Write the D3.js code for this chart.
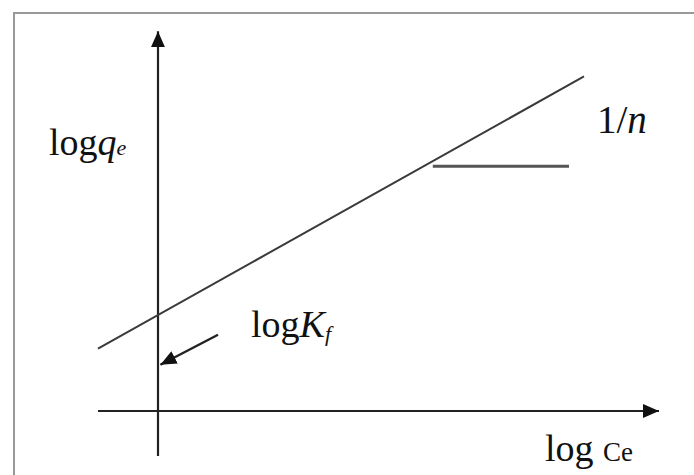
<!DOCTYPE html>
<html>
<head>
<meta charset="utf-8">
<script src="https://cdn.jsdelivr.net/npm/d3@7"></script>
<style>
  body { margin: 0; background: #fff; }
  text { font-family: "Liberation Serif", "DejaVu Serif", serif; fill: #111; }
</style>
</head>
<body>
<svg></svg>
<script>
// Freundlich isotherm sketch: log qe = log Kf + (1/n) log Ce

// Axis extents in data units [start, end]
var xAxisRange = [-1, 8.35];
var yAxisRange = [-0.75, 6.33];

// Fitted line: intercept (log Kf) and slope (1/n), drawn over this x span
var intercept = 1.6;
var slope = 0.56;
var lineX = [-1, 7.1];

// Slope marker: horizontal segment at this height
var slopeMarkY = 4.08;
var slopeMarkX = [4.58, 6.85];

// Pointer to the intercept: [x, y] start and end
var pointerFrom = [1.0, 1.27];
var pointerTo = [0.04, 0.77];

var svgWidth = 694, svgHeight = 475;

var svg = d3.select("svg")
  .attr("width", svgWidth)
  .attr("height", svgHeight);

// One data unit = 60px, origin at (158, 411)
var xScale = d3.scaleLinear().domain([0, 1]).range([158, 218]);
var yScale = d3.scaleLinear().domain([0, 1]).range([411, 351]);

// Arrow heads
var defs = svg.append("defs");
defs.append("marker")
  .attr("id", "head")
  .attr("viewBox", "0 0 16 16")
  .attr("refX", 16).attr("refY", 8)
  .attr("markerWidth", 16).attr("markerHeight", 16)
  .attr("markerUnits", "userSpaceOnUse")
  .attr("orient", "auto")
  .append("path")
  .attr("d", "M0,1 L16,8 L0,15 Z")
  .attr("fill", "#111");
defs.append("marker")
  .attr("id", "small-head")
  .attr("viewBox", "0 0 16 14")
  .attr("refX", 16).attr("refY", 7)
  .attr("markerWidth", 16).attr("markerHeight", 14)
  .attr("markerUnits", "userSpaceOnUse")
  .attr("orient", "auto")
  .append("path")
  .attr("d", "M0,0 L16,7 L0,14 Z")
  .attr("fill", "#111");

// Outer frame (runs off the right and bottom edge)
svg.append("rect")
  .attr("x", 14).attr("y", 13)
  .attr("width", 700).attr("height", 500)
  .attr("fill", "none")
  .attr("stroke", "#999")
  .attr("stroke-width", 2);

// Axes
svg.append("line")
  .attr("x1", xScale(xAxisRange[0])).attr("y1", yScale(0))
  .attr("x2", xScale(xAxisRange[1])).attr("y2", yScale(0))
  .attr("stroke", "#222").attr("stroke-width", 2.2)
  .attr("marker-end", "url(#head)");

svg.append("line")
  .attr("x1", xScale(0)).attr("y1", yScale(yAxisRange[0]))
  .attr("x2", xScale(0)).attr("y2", yScale(yAxisRange[1]))
  .attr("stroke", "#222").attr("stroke-width", 2.2)
  .attr("marker-end", "url(#head)");

// Fitted line
var line = d3.line()
  .x(function(d) { return xScale(d); })
  .y(function(d) { return yScale(intercept + slope * d); });

svg.append("path")
  .datum(lineX)
  .attr("d", line)
  .attr("fill", "none")
  .attr("stroke", "#3a3a3a")
  .attr("stroke-width", 2);

// Horizontal slope marker
svg.append("line")
  .attr("x1", xScale(slopeMarkX[0])).attr("y1", yScale(slopeMarkY))
  .attr("x2", xScale(slopeMarkX[1])).attr("y2", yScale(slopeMarkY))
  .attr("stroke", "#555").attr("stroke-width", 3);

// Pointer to intercept
svg.append("line")
  .attr("x1", xScale(pointerFrom[0])).attr("y1", yScale(pointerFrom[1]))
  .attr("x2", xScale(pointerTo[0])).attr("y2", yScale(pointerTo[1]))
  .attr("stroke", "#222").attr("stroke-width", 2.4)
  .attr("marker-end", "url(#small-head)");

// Labels
var qLabel = svg.append("text")
  .attr("x", 49).attr("y", 155)
  .attr("font-size", 38);
qLabel.append("tspan").text("log");
qLabel.append("tspan").attr("font-style", "italic").text("q");
qLabel.append("tspan").attr("font-style", "italic").attr("font-size", 22).text("e");

var kLabel = svg.append("text")
  .attr("x", 251).attr("y", 337)
  .attr("font-size", 38);
kLabel.append("tspan").text("log");
kLabel.append("tspan").attr("font-style", "italic").text("K");
kLabel.append("tspan").attr("font-style", "italic").attr("font-size", 22).attr("dy", 4).text("f");

var nLabel = svg.append("text")
  .attr("x", 597).attr("y", 133)
  .attr("font-size", 39);
nLabel.append("tspan").text("1/");
nLabel.append("tspan").attr("font-style", "italic").text("n");

var cLabel = svg.append("text")
  .attr("x", 545).attr("y", 461)
  .attr("font-size", 38);
cLabel.append("tspan").text("log ");
cLabel.append("tspan").attr("font-size", 27).text("Ce");
</script>
</body>
</html>
